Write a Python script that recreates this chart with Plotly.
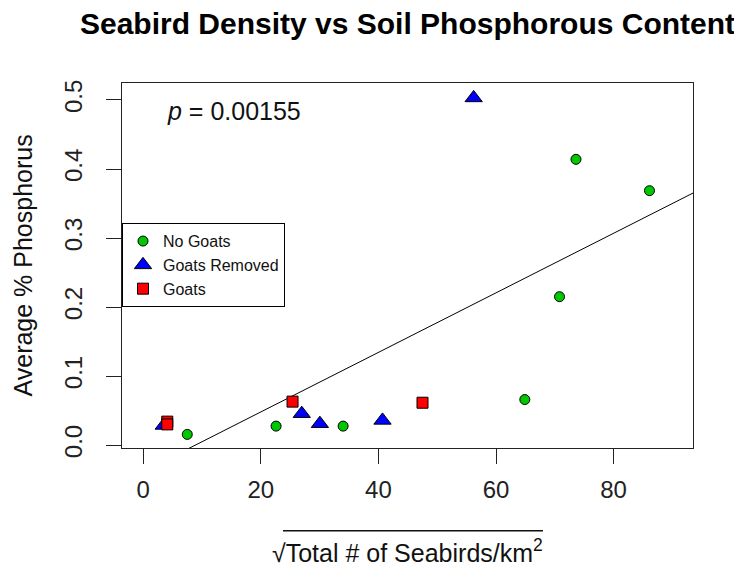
import plotly.graph_objects as go

# ---- data ----
no_goats_x = [7.5, 22.6, 34.0, 64.9, 70.8, 73.6, 86.1]
no_goats_y = [0.0155, 0.0275, 0.0275, 0.066, 0.215, 0.414, 0.3686]
removed_x = [3.5, 26.97, 30.05, 40.7, 56.2]
removed_y = [0.0285, 0.0455, 0.031, 0.0358, 0.503]
goats_x = [4.1, 4.1, 25.4, 47.5]
goats_y = [0.034, 0.030, 0.063, 0.0614]
fit_intercept = -0.0383
fit_slope = 0.004315
p_value = 0.00155
x_ticks = [0, 20, 40, 60, 80]
y_ticks = [0.0, 0.1, 0.2, 0.3, 0.4, 0.5]
x_range = [-3.6, 93.5]
y_range = [-0.0042, 0.5246]

FONT = "Liberation Sans, Arial, sans-serif"

# page has an 8px body margin; figure sized to fit the window
W, H = 734, 560
ML, MR, MT, MB = 114, 49, 75, 120
PW, PH = W - ML - MR, H - MT - MB

fig = go.Figure()

# regression line (abline) across the plot region
fig.add_trace(go.Scatter(
    x=x_range, y=[fit_intercept + fit_slope * v for v in x_range],
    mode="lines", line=dict(color="black", width=1), showlegend=False,
    hoverinfo="skip"))

fig.add_trace(go.Scatter(
    x=no_goats_x, y=no_goats_y, mode="markers", name="No Goats",
    marker=dict(symbol="circle", size=10, color="#00C800",
                line=dict(color="black", width=1))))
fig.add_trace(go.Scatter(
    x=removed_x, y=removed_y, mode="markers", name="Goats Removed",
    marker=dict(symbol="triangle-up", size=15, color="#0000FF",
                line=dict(color="black", width=1))))
fig.add_trace(go.Scatter(
    x=goats_x, y=goats_y, mode="markers", name="Goats",
    marker=dict(symbol="square", size=11, color="#FF0000",
                line=dict(color="black", width=1))))

axis_common = dict(
    showgrid=False, zeroline=False, showline=True, mirror=True,
    linecolor="#222", linewidth=1, ticks="outside", ticklen=15,
    tickcolor="#222", tickwidth=1,
    tickfont=dict(family=FONT, size=24, color="#222"))

fig.update_xaxes(range=x_range, tickvals=x_ticks,
                 ticktext=[str(v) for v in x_ticks],
                 ticklabelstandoff=5, **axis_common)
fig.update_yaxes(range=y_range, tickvals=y_ticks,
                 ticktext=[f"{v:.1f}" for v in y_ticks],
                 tickangle=-90, ticklabelstandoff=14, **axis_common)

fig.update_layout(
    width=W, height=H,
    margin=dict(l=ML, r=MR, t=MT, b=MB),
    paper_bgcolor="white", plot_bgcolor="white",
    font=dict(family=FONT, color="#111"),
    title=dict(text="Seabird Density vs Soil Phosphorous Content",
               x=0.5, xref="paper", xanchor="center",
               y=1 - 15 / H, yref="container", yanchor="middle",
               font=dict(family=FONT, size=30, color="black", weight="bold")),
    legend=dict(x=0, xanchor="left", y=0.616, yanchor="top",
                xref="paper", yref="paper",
                bgcolor="white", bordercolor="black", borderwidth=1,
                font=dict(family=FONT, size=16, color="#111"),
                itemwidth=30),
    showlegend=True,
)

annotations = [
    dict(text=f"<i>p</i> = {p_value}", xref="paper", yref="paper",
         x=(157 - ML) / PW, y=0.923, xanchor="left", yanchor="middle",
         showarrow=False, font=dict(family=FONT, size=25, color="#111")),
    dict(text="Average % Phosphorus", xref="paper", yref="paper",
         x=(14 - ML) / PW, y=0.5, xanchor="center", yanchor="middle",
         textangle=-90, showarrow=False,
         font=dict(family=FONT, size=25, color="#111")),
    dict(text="\u221aTotal # of Seabirds/km<sup>2</sup>", xref="paper", yref="paper",
         x=(399 - ML) / PW, y=(MT + PH - 543) / PH, xanchor="center", yanchor="middle",
         showarrow=False, font=dict(family=FONT, size=25, color="#111")),
]
fig.update_layout(annotations=annotations)

# overline of the square root sign
fig.add_shape(type="line", xref="paper", yref="paper",
              x0=(275 - ML) / PW, x1=(535 - ML) / PW,
              y0=(MT + PH - 522.7) / PH, y1=(MT + PH - 522.7) / PH,
              line=dict(color="#111", width=1.5))

fig.write_html("out.html")
